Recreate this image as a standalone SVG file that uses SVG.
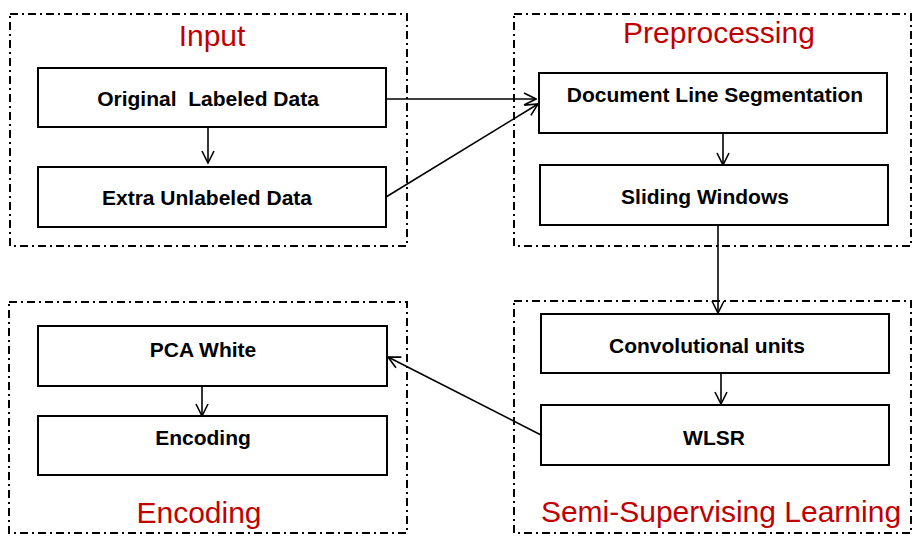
<svg xmlns="http://www.w3.org/2000/svg" width="921" height="546" viewBox="0 0 921 546">
<defs>
<marker id="arr" viewBox="0 0 14 14" refX="13" refY="7" markerWidth="14" markerHeight="14" markerUnits="userSpaceOnUse" orient="auto">
<path d="M1,1 L13,7 L1,13" fill="none" stroke="#000" stroke-width="1.6"/>
</marker>
<style>
.grp{fill:none;stroke:#000;stroke-width:2;stroke-dasharray:8 4 2 4;}
.box{fill:#fff;stroke:#000;stroke-width:2;}
.lbl{font-family:"Liberation Sans",Arial,sans-serif;font-weight:bold;font-size:21px;fill:#000;text-anchor:middle;}
.ttl{font-family:"Liberation Sans",Arial,sans-serif;font-size:30px;fill:#C00000;text-anchor:middle;}
.con{fill:none;stroke:#000;stroke-width:1.6;marker-end:url(#arr);}
</style>
</defs>
<rect width="921" height="546" fill="#fff"/>
<g id="group-input">
<rect class="grp" x="10" y="14" width="397" height="232"/>
<text class="ttl" x="212" y="46">Input</text>
</g>
<g id="group-preprocessing">
<rect class="grp" x="514" y="14" width="397" height="232"/>
<text class="ttl" x="719" y="43">Preprocessing</text>
</g>
<g id="group-encoding">
<rect class="grp" x="9" y="302" width="398" height="231"/>
<text class="ttl" x="199" y="523">Encoding</text>
</g>
<g id="group-semi">
<rect class="grp" x="514" y="301" width="397" height="232"/>
<text class="ttl" x="721" y="522">Semi-Supervising Learning</text>
</g>
<g id="node-original">
<rect class="box" x="38" y="68" width="348" height="59"/>
<text class="lbl" x="208" y="106" xml:space="preserve">Original  Labeled Data</text>
</g>
<g id="node-extra">
<rect class="box" x="38" y="167" width="348" height="60"/>
<text class="lbl" x="207" y="205">Extra Unlabeled Data</text>
</g>
<g id="node-docseg">
<rect class="box" x="539" y="73" width="348" height="60"/>
<text class="lbl" x="715" y="102">Document Line Segmentation</text>
</g>
<g id="node-sliding">
<rect class="box" x="540" y="165" width="348" height="60"/>
<text class="lbl" x="705" y="204">Sliding Windows</text>
</g>
<g id="node-conv">
<rect class="box" x="541" y="314" width="348" height="59"/>
<text class="lbl" x="707" y="353">Convolutional units</text>
</g>
<g id="node-wlsr">
<rect class="box" x="541" y="405" width="348" height="60"/>
<text class="lbl" x="714" y="445">WLSR</text>
</g>
<g id="node-pca">
<rect class="box" x="38" y="326" width="349" height="60"/>
<text class="lbl" x="203" y="357">PCA White</text>
</g>
<g id="node-encoding">
<rect class="box" x="38" y="416" width="349" height="59"/>
<text class="lbl" x="203" y="445">Encoding</text>
</g>
<g id="connectors">
<line class="con" x1="208" y1="127" x2="208" y2="163"/>
<line class="con" x1="386" y1="99" x2="536" y2="99"/>
<line class="con" x1="386" y1="197" x2="538" y2="104"/>
<line class="con" x1="723" y1="133" x2="723" y2="165"/>
<line class="con" x1="718" y1="225" x2="718" y2="313"/>
<line class="con" x1="721" y1="373" x2="721" y2="404"/>
<line class="con" x1="541" y1="435" x2="388" y2="357"/>
<line class="con" x1="202" y1="386" x2="202" y2="416"/>
</g>
</svg>
